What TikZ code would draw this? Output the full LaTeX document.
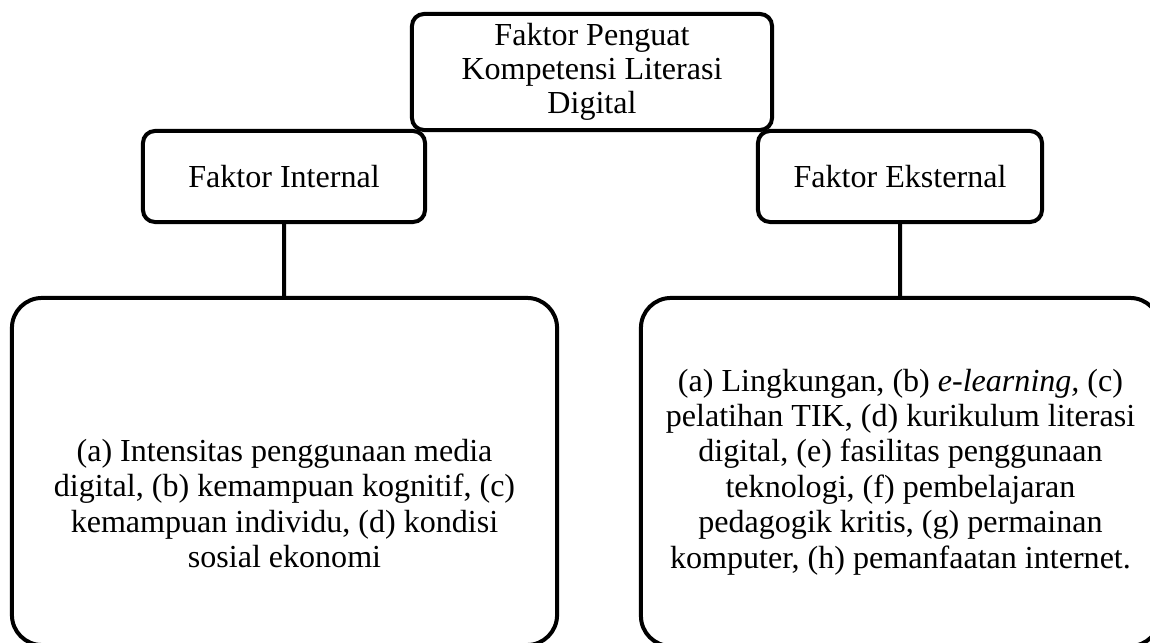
\documentclass[tikz,border=0pt]{standalone}
\usepackage{fontspec}
\setmainfont{Liberation Serif}
\usetikzlibrary{positioning}

\begin{document}
\begin{tikzpicture}[x=0.025cm, y=0.025cm, line width=0.1cm,
  font=\fontsize{22.8}{24}\selectfont, align=center, inner sep=0pt,
  head/.style={draw, rounded corners=0.3cm},
  txt/.style={font=\fontsize{22.8}{25.2}\selectfont},
  list/.style={draw, rounded corners=0.75cm, txt}]
  \useasboundingbox (0,0) rectangle (1150,643);

  \node [head, minimum width=9cm, minimum height=2.9cm] (top) at (592,571)
    {Faktor Penguat\\ Kompetensi Literasi\\ Digital};
  \node [head, minimum width=7.05cm, minimum height=2.275cm] (int) at (284,466.5)
    {Faktor Internal};
  \node [head, minimum width=7.1cm, minimum height=2.275cm] (eks) at (900,466.5)
    {Faktor Eksternal};

  % bottom of both boxes is cut by the page
  \node [list, minimum width=13.625cm, minimum height=8.675cm] (intlist) at (284.5,171.5) {};
  \node [txt] (inttext) at ([yshift=-0.8cm]intlist.center)
    {(a) Intensitas penggunaan media\\ digital, (b) kemampuan kognitif, (c)\\
     kemampuan individu, (d) kondisi\\ sosial ekonomi};
  \node [list, minimum width=12.975cm, minimum height=8.7cm] (ekslist) at (900.5,171)
    {(a) Lingkungan, (b) \textit{e-learning,} (c)\\ pelatihan TIK, (d) kurikulum literasi\\
     digital, (e) fasilitas penggunaan\\ teknologi, (f) pembelajaran\\
     pedagogik kritis, (g) permainan\\ komputer, (h) pemanfaatan internet.};

  \draw (int) -- (intlist);
  \draw (eks) -- (ekslist);
\end{tikzpicture}
\end{document}
